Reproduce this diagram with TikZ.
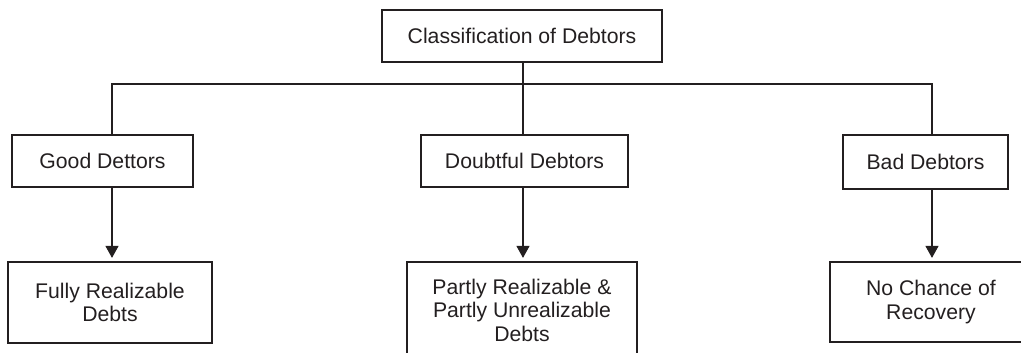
\documentclass[tikz,border=0pt]{standalone}
\usepackage{fontspec}
\setmainfont{Liberation Sans}
\usetikzlibrary{arrows.meta,calc}
\definecolor{ink}{HTML}{231F20}
\tikzset{
  box/.style={draw=ink, line width=1.2pt, rectangle, inner sep=0pt, align=center,
    text=ink, font=\fontsize{21.2}{23.5}\selectfont},
  link/.style={draw=ink, line width=1.2pt},
  arr/.style={link, -{Triangle[length=12pt,width=13pt]}, shorten >=3.5pt}
}
\begin{document}
\begin{tikzpicture}[x=1pt,y=-1pt]
\useasboundingbox (0,0) rectangle (1021,353);
\clip (0,0) rectangle (1021,353);
\node[box, minimum width=280pt, minimum height=52pt] (top) at (522,36) {Classification of Debtors};
\node[box, minimum width=181pt, minimum height=52pt] (good) at (102.5,161) {Good Dettors};
\node[box, minimum width=207pt, minimum height=52pt] (doubt) at (524.5,161) {Doubtful Debtors};
\node[box, minimum width=165pt, minimum height=54pt] (bad) at (925.5,162) {Bad Debtors};
\node[box, minimum width=204pt, minimum height=81pt] (full) at (110,302.5) {Fully Realizable\\Debts};
\node[box, minimum width=230pt, minimum height=96pt] (part) at (522,310) {Partly Realizable \&\\Partly Unrealizable\\Debts};
\node[box, minimum width=202pt, minimum height=80pt] (none) at (931,302) {No Chance of\\Recovery};
\coordinate (sx1) at (112,84);
\coordinate (sx2) at (523,84);
\coordinate (sx3) at (932,84);
\draw[link] (top.south -| sx2) -- (sx2);
\draw[link] (good.north -| sx1) -- (sx1) -- (sx3) -- (bad.north -| sx3);
\draw[link] (sx2) -- (doubt.north -| sx2);
\draw[arr] (good.south -| sx1) -- (full.north -| sx1);
\draw[arr] (doubt.south -| sx2) -- (part.north -| sx2);
\draw[arr] (bad.south -| sx3) -- (none.north -| sx3);
\end{tikzpicture}
\end{document}
